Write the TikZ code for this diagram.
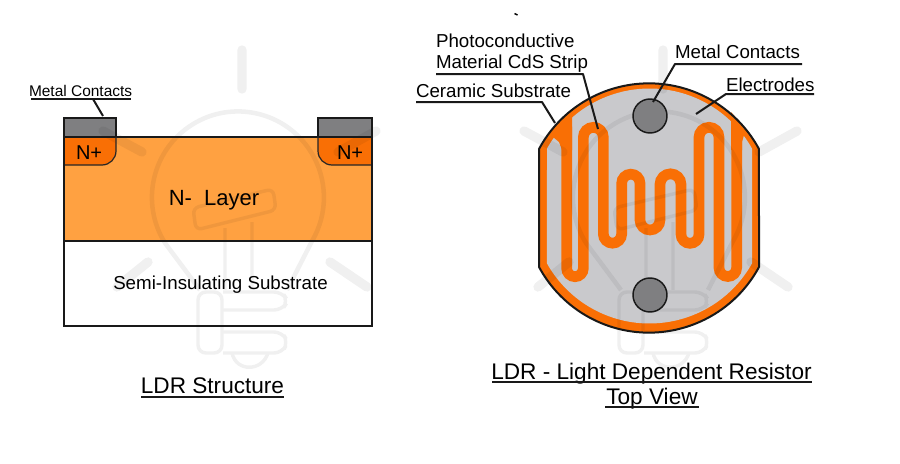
\documentclass[tikz,border=0pt]{standalone}
\usepackage{fontspec}
\setmainfont{Liberation Sans}
\definecolor{nlayer}{HTML}{FFA141}
\definecolor{nplus}{HTML}{F96F05}
\definecolor{metal}{HTML}{7F7F81}
\definecolor{ceramic}{HTML}{C9C9CC}
\definecolor{mark}{HTML}{3B4A80}
\newcommand{\szA}{\fontsize{14.05pt}{16pt}\selectfont}
\newcommand{\szB}{\fontsize{11.6pt}{14pt}\selectfont}
\newcommand{\szC}{\fontsize{16.95pt}{20pt}\selectfont}
\newcommand{\bulbmark}{%
  \draw[line width=7pt,line cap=round] (242,50)--(242,89) (103,131)--(142,152) (376,131)--(338,152) (148,262)--(117,287) (330,262)--(367,287);
  \draw[line width=3.4pt,line join=round] (200,290)--(165,243) arc[start angle=148,end angle=390.5,radius=86] -- (287,290);
  \draw[line width=2.6pt,rounded corners=4.5pt] (193,208)--(273,189)--(276,210)--(196,230)--cycle;
  \draw[line width=2.6pt] (225,228)--(225,290) (252,222)--(252,290);
  \draw[line width=2.6pt,rounded corners=6pt] (223,292)--(282,292)--(288,301)--(282,310)--(223,310);
  \draw[line width=2.6pt,rounded corners=6pt] (223,332)--(282,332)--(288,342)--(282,353)--(223,353);
  \draw[line width=2.6pt,rounded corners=6pt] (198,292)--(222,292)--(222,353)--(198,353)--cycle;
  \draw[line width=2.6pt] (232,353) .. controls (236,372) and (262,372) .. (268,353);
}
\tikzset{
  lbl/.style={anchor=base west,inner sep=0pt,outer sep=0pt},
  midlbl/.style={anchor=base,inner sep=0pt,outer sep=0pt},
  lead/.style={line width=1.5pt,black!90},
  rulel/.style={line width=1.5pt,black!90},
  titlerule/.style={line width=1.2pt,black!90},
  outl/.style={line width=1.5pt,black!90},
  thinoutl/.style={line width=.9pt,black!85},
}
\begin{document}
\begin{tikzpicture}[x=.75pt,y=-.75pt]
\useasboundingbox (0,0) rectangle (900,464);
\fill[white] (0,0) rectangle (900,464);

% ---- left: structure
\fill[white] (64,241) rectangle (372,326);
\fill[nlayer] (64,137) rectangle (372,241);
\fill[nplus] (64,137) -- (116,137) -- (116,151) arc[start angle=0,end angle=90,radius=14] -- (64,165) -- cycle;
\fill[nplus] (372,137) -- (318,137) -- (318,151) arc[start angle=180,end angle=90,radius=14] -- (372,165) -- cycle;
\fill[metal] (64,118) rectangle (116,137);
\fill[metal] (318,118) rectangle (372,137);

% ---- right: top view
\fill[nplus] (539,149) arc[start angle=208.36,end angle=331.64,radius=125] -- (759,267) arc[start angle=28.36,end angle=151.64,radius=125] -- cycle;
\fill[ceramic] (547,148.6) arc[start angle=209.25,end angle=330.75,radius=117.5] -- (752,263.4) arc[start angle=29.25,end angle=150.75,radius=117.5] -- cycle;
\fill[nplus] (553,137) -- (559,142) -- (562,150) -- (572,150) -- (572,113) -- (560,120) -- cycle;
\fill[nplus] (731,112) -- (731,150) -- (742,150) -- (742,142) -- (744,135) -- (738,120) -- cycle;
\begin{scope}[shift={(520,70)},x=.25pt,y=-.25pt]
\draw[nplus,line width=8pt]
  (140,170) -- (140,595) arc[start angle=180,end angle=0,radius=25]
  -- (190,202) arc[start angle=180,end angle=360,radius=30]
  -- (250,492) arc[start angle=180,end angle=0,radius=27.5]
  -- (305,340) arc[start angle=180,end angle=360,radius=27.5]
  -- (360,450) arc[start angle=180,end angle=0,radius=30]
  -- (420,343) arc[start angle=180,end angle=360,radius=31.5]
  -- (483,493) arc[start angle=180,end angle=0,radius=27]
  -- (537,202) arc[start angle=180,end angle=360,radius=30]
  -- (597,593) arc[start angle=180,end angle=0,radius=26.5]
  -- (650,170);
\end{scope}

% ---- watermarks
\begin{scope}[transparency group,opacity=.06,draw=mark,color=mark]
\bulbmark
\end{scope}
\begin{scope}[xshift=315.75pt,transparency group,opacity=.06,draw=mark,color=mark]
\bulbmark
\end{scope}

% ---- left outlines
\draw[outl] (64,137) -- (372,137);
\draw[outl] (64,118) rectangle (116,137);
\draw[outl] (318,118) rectangle (372,137);
\draw[thinoutl] (64,165) -- (102,165) arc[start angle=90,end angle=0,radius=14] -- (116,137);
\draw[thinoutl] (372,165) -- (332,165) arc[start angle=90,end angle=180,radius=14] -- (318,137);
\draw[outl] (64,137) -- (64,326) -- (372,326) -- (372,137);
\draw[outl] (64,241) -- (372,241);

% ---- right outlines and contacts
\draw[outl] (539,149) arc[start angle=208.36,end angle=331.64,radius=125] -- (759,267) arc[start angle=28.36,end angle=151.64,radius=125] -- cycle;
\node[circle,draw=black!90,line width=1.1pt,fill=metal,minimum size=25.5pt,inner sep=0pt] (topc) at (650,116) {};
\node[circle,draw=black!90,line width=1.1pt,fill=metal,minimum size=25.5pt,inner sep=0pt] (botc) at (650,295) {};

% ---- texts
\node[lbl] (nplusa) at (76,159) {\fontsize{15pt}{17pt}\selectfont N+};
\node[lbl] (nplusb) at (337,159) {\fontsize{15pt}{17pt}\selectfont N+};
\node[midlbl] (nminus) at (214,205) {\fontsize{16.5pt}{19pt}\selectfont N-\ \ Layer};
\node[midlbl] (semi) at (220.5,289) {\szA Semi-Insulating Substrate};
\node[midlbl] (titleA) at (212.5,393) {\szC LDR Structure};
\node[midlbl] (titleB) at (651.5,379) {\szC LDR - Light Dependent Resistor};
\node[midlbl] (titleC) at (652,404) {\szC Top View};
\node[lbl] (lmc) at (29,96) {\szB Metal Contacts};
\node[lbl] (rmc) at (675,58) {\szA Metal Contacts};
\node[lbl] (elec) at (726,91) {\szA Electrodes};
\node[lbl] (photo) at (436,47) {\szA Photoconductive};
\node[lbl] (cds) at (436,68) {\szA Material CdS Strip};
\node[lbl] (cer) at (416,97) {\szA Ceramic Substrate};

% ---- title underlines
\draw[titlerule] (141,397) -- (284,397);
\draw[titlerule] (492,382) -- (812,382);
\draw[titlerule] (605,407) -- (699,407);

% ---- leaders
\coordinate (lmcend) at (103,116);
\draw[rulel] (31,99) -- (131,99);
\draw[lead] (93,99) -- (lmcend);
\coordinate (rmcend) at (653,102);
\draw[rulel,line join=round] (802,64) -- (675,64) -- (rmcend);
\coordinate (elecend) at (696,114);
\draw[rulel,line join=round] (814,94) -- (726,94) -- (elecend);
\coordinate (cdsend) at (598,129);
\draw[rulel,line join=round] (436,74) -- (583,74) -- (cdsend);
\coordinate (cerend) at (555,123);
\draw[rulel,line join=round] (416,102) -- (542,102) -- (cerend);

% ---- stray tick at the top
\draw[line width=1.1pt,black] (514.5,13.5) -- (517.5,15);
\end{tikzpicture}
\end{document}
